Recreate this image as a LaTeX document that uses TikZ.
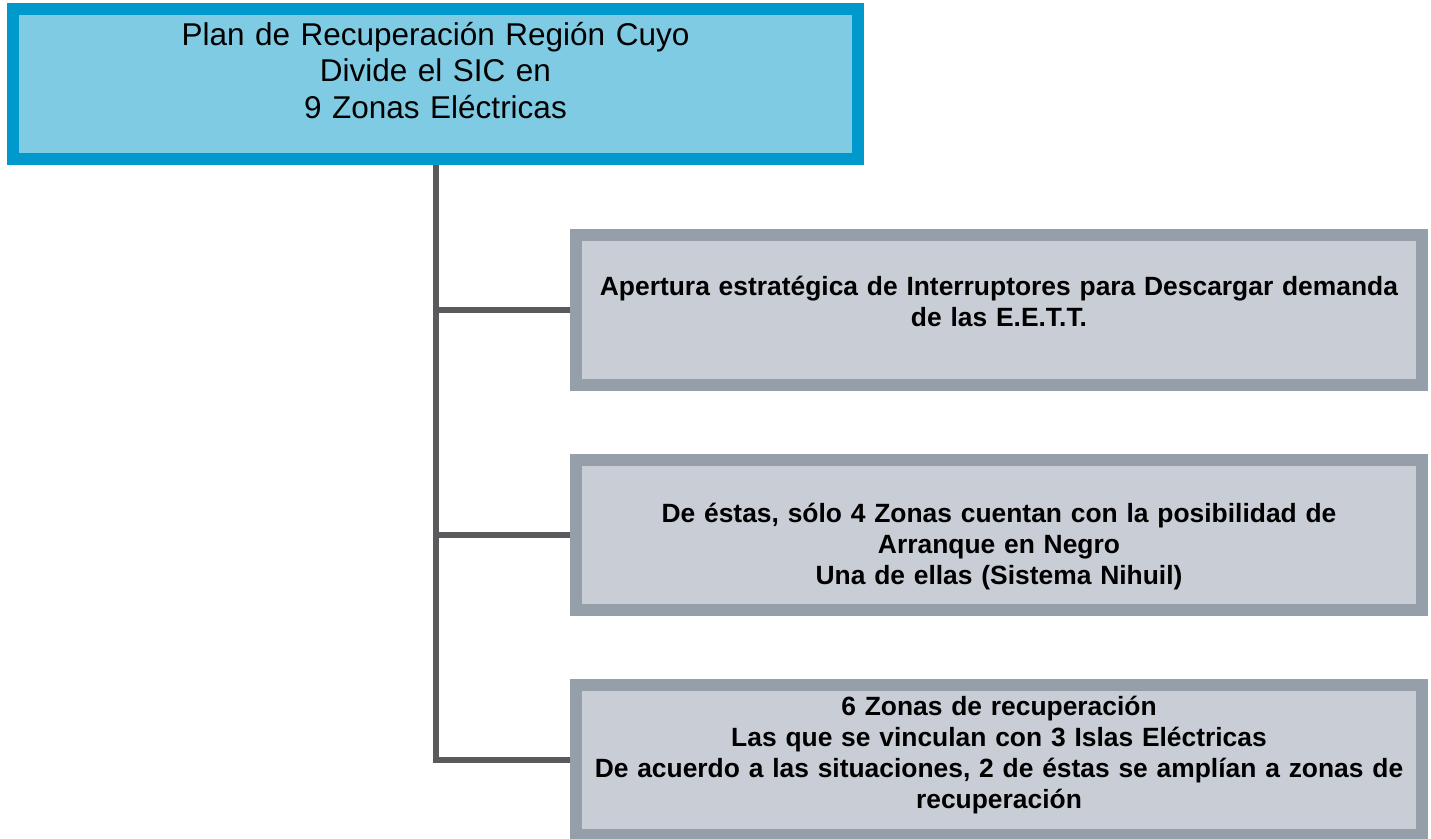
\documentclass[tikz,border=0pt]{standalone}
\usepackage{fontspec}
\setmainfont{Liberation Sans}
\definecolor{topborder}{HTML}{0099CC}
\definecolor{topfill}{HTML}{7FCBE4}
\definecolor{subborder}{HTML}{959FA9}
\definecolor{subfill}{HTML}{C9CDD5}
\definecolor{connc}{HTML}{5A5A5C}
\begin{document}
\begin{tikzpicture}[x=1pt,y=-1pt,
  topbox/.style={draw=topborder, fill=topfill, line width=12pt, minimum width=845pt, minimum height=150pt, inner sep=0pt},
  subbox/.style={draw=subborder, fill=subfill, line width=12pt, minimum width=846pt, minimum height=150pt, inner sep=0pt},
  conn/.style={draw=connc, line width=6pt},
  toptext/.style={anchor=base, text width=840pt, align=center, inner sep=0pt, font=\fontsize{31.5}{36.5}\selectfont},
  subtext/.style={anchor=base, text width=840pt, align=center, inner sep=0pt, font=\fontsize{26.4}{31}\selectfont\bfseries}]
\useasboundingbox (0,0) rectangle (1431,838);
\clip (0,0) rectangle (1431,838);
\node[topbox] (top) at (435.5,84) {};
\node[subbox] (b1) at (999,309.5) {};
\node[subbox] (b2) at (999,535) {};
\node[subbox] (b3) at (999,760) {};
\node[toptext] (t0) at (435.5,45) {Plan de Recuperación Región Cuyo\\Divide el SIC en\\9 Zonas Eléctricas};
\node[subtext] (t1) at (999,295) {Apertura estratégica de Interruptores para Descargar demanda\\de las E.E.T.T.};
\node[subtext] (t2) at (999,522) {De éstas, sólo 4 Zonas cuentan con la posibilidad de\\Arranque en Negro\\Una de ellas (Sistema Nihuil)};
\node[subtext] (t3) at (999,715) {6 Zonas de recuperación\\Las que se vinculan con 3 Islas Eléctricas\\De acuerdo a las situaciones, 2 de éstas se amplían a zonas de\\recuperación};
\draw[conn] (top.south) |- (b3.west);
\draw[conn] (top.south |- b1.west) -- (b1.west);
\draw[conn] (top.south |- b2.west) -- (b2.west);
\end{tikzpicture}
\end{document}
